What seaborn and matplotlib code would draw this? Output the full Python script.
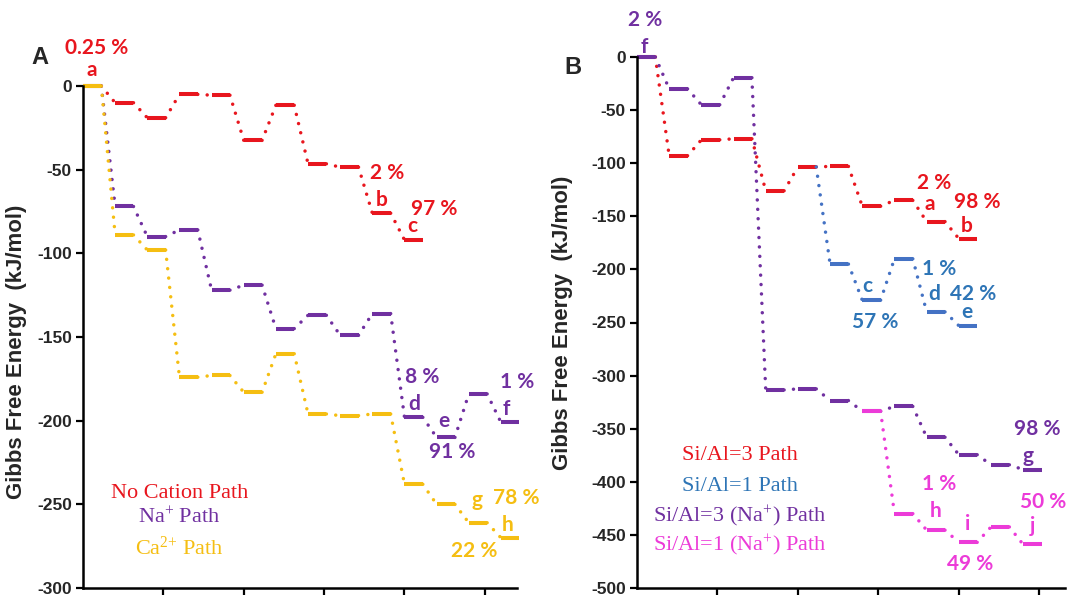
import numpy as np
import pandas as pd
import matplotlib
matplotlib.use("Agg")
import matplotlib.pyplot as plt
import seaborn as sns

# Gibbs free energy levels (kJ/mol); list index = step on the reaction coordinate
a_red = [0, -10, -19, -5, -5.5, -32.5, -11.5, -46.5, -48.5, -76, -92]
a_purple = [0, -72, -90, -86, -122, -119, -145, -137, -149, -136, -198, -210, -184, -201]
a_yellow = [0, -89, -98, -174, -173, -183, -160, -196, -197, -196, -238, -250, -261, -270]

b_red = [0, -93, -78, -77, -126, -103.5, -103, -140.5, -135, -155, -171]
b_blue = [-103.5, -195, -229, -190, -240, -253]          # branches off at step 5
b_purple = [0, -30, -45, -19.5, -313.5, -312.5, -323.5, -333.5, -329, -358, -374.5, -384, -388.5]
b_magenta = [-333.5, -430, -445.5, -457, -442.5, -459]    # branches off at step 7

RED = '#E8161E'
PURPLE = '#7030A0'
YELLOW = '#F5BE12'
BLUE = '#4472C4'
BLUE_TXT = '#2E75B6'
MAGENTA = '#EC3BD8'

W = 0.57  # width of one level bar (in steps)

sns.set_style("ticks")
plt.rcParams['mathtext.fontset'] = 'custom'
plt.rcParams['mathtext.rm'] = 'Liberation Serif'
plt.rcParams['mathtext.it'] = 'Liberation Serif:italic'


def build(levels, start=0, skip_first_bar=False):
    bars, links = [], []
    for k, e in enumerate(levels):
        i = start + k
        if not (skip_first_bar and k == 0):
            bars += [dict(x=i, y=e, seg=k), dict(x=i + W, y=e, seg=k)]
        if k + 1 < len(levels):
            links += [dict(x=i + W, y=e, seg=k), dict(x=i + 1, y=levels[k + 1], seg=k)]
    return pd.DataFrame(bars), pd.DataFrame(links)


def draw_path(ax, levels, color, start=0, skip_first_bar=False):
    bars, links = build(levels, start, skip_first_bar)
    sns.lineplot(data=links, x='x', y='y', units='seg', estimator=None, sort=False,
                 color=color, lw=2.5, linestyle=(0, (0.01, 2.7)),
                 dash_capstyle='round', clip_on=False, ax=ax)
    sns.lineplot(data=bars, x='x', y='y', units='seg', estimator=None, sort=False,
                 color=color, lw=2.9, solid_capstyle='butt', clip_on=False, ax=ax)


def lab(ax, x, y, s, color, size=15):
    ax.text(x, y, s, color=color, fontsize=size, fontweight='bold', family=['Lato', 'DejaVu Sans'],
            ha='center', va='center', clip_on=False)


def leg(ax, x, y, s, color):
    ax.text(x, y, s, color=color, fontsize=16, family=['Liberation Serif', 'DejaVu Serif'],
            ha='center', va='center')


def style_axes(ax, ylim, yticks, xmax):
    ax.set_xlim(0, xmax)
    ax.set_ylim(*ylim)
    ax.set_xticks([2.5, 5, 7.5, 10, 12.5])
    ax.set_xticklabels([])
    ax.set_yticks(yticks)
    ax.set_yticklabels([str(t) for t in yticks], fontweight='bold', fontsize=12.5,
                       family='Liberation Sans')
    ax.set_xlabel('')
    ax.set_ylabel('Gibbs Free Energy  (kJ/mol)', fontweight='bold', fontsize=16,
                  family='Liberation Sans')
    sns.despine(ax=ax)
    for sp in ['left', 'bottom']:
        ax.spines[sp].set_linewidth(1.8)
        ax.spines[sp].set_color('black')
    ax.tick_params(axis='both', direction='out', length=5, width=1.6, color='black', pad=3)


fig = plt.figure(figsize=(10.67, 5.96), dpi=100)

# ---------------- panel A ----------------
ax_a = fig.add_axes([83 / 1067, 1 - 588 / 596, 434 / 1067, 502 / 596])
draw_path(ax_a, a_red, RED)
draw_path(ax_a, a_purple, PURPLE)
draw_path(ax_a, a_yellow, YELLOW)
style_axes(ax_a, (-300, 0), list(range(0, -301, -50)), 13.5)
ax_a.yaxis.set_label_coords(-0.13, 0.47)

lab(ax_a, 0.43, 22.6, '0.25 %', RED)
lab(ax_a, 0.28, 9.5, 'a', RED)
lab(ax_a, 9.47, -51.8, '2 %', RED)
lab(ax_a, 9.29, -67.9, 'b', RED)
lab(ax_a, 10.93, -73.8, '97 %', RED)
lab(ax_a, 10.25, -83.9, 'c', RED)
lab(ax_a, 10.56, -173.8, '8 %', PURPLE)
lab(ax_a, 10.31, -189.9, 'd', PURPLE)
lab(ax_a, 11.24, -200, 'e', PURPLE)
lab(ax_a, 11.49, -218.5, '91 %', PURPLE)
lab(ax_a, 13.5, -176.8, '1 %', PURPLE)
lab(ax_a, 13.17, -192.9, 'f', PURPLE)
lab(ax_a, 12.27, -247.6, 'g', YELLOW)
lab(ax_a, 13.48, -246.4, '78 %', YELLOW)
lab(ax_a, 13.2, -262.5, 'h', YELLOW)
lab(ax_a, 12.17, -278, '22 %', YELLOW)

leg(ax_a, 3.0, -243.5, 'No Cation Path', RED)
leg(ax_a, 3.0, -258.3, r'Na$^{+}$ Path', PURPLE)
leg(ax_a, 3.0, -276.2, r'Ca$^{2{+}}$ Path', YELLOW)

# ---------------- panel B ----------------
ax_b = fig.add_axes([637 / 1067, 1 - 588 / 596, 428 / 1067, 531 / 596])
draw_path(ax_b, b_red, RED)
draw_path(ax_b, b_blue, BLUE, start=5, skip_first_bar=True)
draw_path(ax_b, b_purple, PURPLE)
draw_path(ax_b, b_magenta, MAGENTA, start=7)
style_axes(ax_b, (-500, 0), list(range(0, -501, -50)), 13.3)
ax_b.yaxis.set_label_coords(-0.15, 0.5)

lab(ax_b, 0.25, 34.7, '2 %', PURPLE)
lab(ax_b, 0.22, 9.4, 'f', PURPLE)
lab(ax_b, 9.22, -118.3, '2 %', RED)
lab(ax_b, 9.1, -138, 'a', RED)
lab(ax_b, 10.56, -136.2, '98 %', RED)
lab(ax_b, 10.25, -159.6, 'b', RED)
lab(ax_b, 9.38, -200, '1 %', BLUE_TXT)
lab(ax_b, 7.17, -216, 'c', BLUE_TXT)
lab(ax_b, 9.22, -223.5, 'd', BLUE_TXT)
lab(ax_b, 10.43, -223.5, '42 %', BLUE_TXT)
lab(ax_b, 7.39, -249.8, '57 %', BLUE_TXT)
lab(ax_b, 10.25, -240.4, 'e', BLUE_TXT)
lab(ax_b, 12.45, -350.2, '98 %', PURPLE)
lab(ax_b, 12.14, -375.6, 'g', PURPLE)
lab(ax_b, 9.38, -401.9, '1 %', MAGENTA)
lab(ax_b, 9.29, -427.2, 'h', MAGENTA)
lab(ax_b, 10.28, -439.4, 'i', MAGENTA)
lab(ax_b, 10.34, -477, '49 %', MAGENTA)
lab(ax_b, 12.61, -418.8, '50 %', MAGENTA)
lab(ax_b, 12.3, -441.3, 'j', MAGENTA)

leg(ax_b, 3.2, -375.6, 'Si/Al=3 Path', RED)
leg(ax_b, 3.2, -404.7, 'Si/Al=1 Path', BLUE_TXT)
leg(ax_b, 3.2, -432.9, r'Si/Al=3 (Na$^{+}$) Path', PURPLE)
leg(ax_b, 3.2, -460.1, r'Si/Al=1 (Na$^{+}$) Path', MAGENTA)

fig.text(40 / 1067, 1 - 58 / 596, 'A', fontsize=17, fontweight='bold', family='Liberation Sans',
         ha='center', va='center')
fig.text(573 / 1067, 1 - 68 / 596, 'B', fontsize=17, fontweight='bold', family='Liberation Sans',
         ha='center', va='center')

fig.savefig('out.png', dpi=100)
